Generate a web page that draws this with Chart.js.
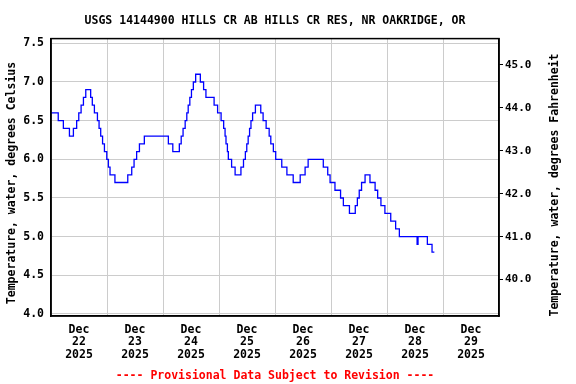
<!DOCTYPE html>
<html>
<head>
<meta charset="utf-8">
<script src="https://cdn.jsdelivr.net/npm/chart.js@4.4.1/dist/chart.umd.min.js"></script>
<style>
    html, body { margin: 0; padding: 0; background: #ffffff; }
    #wrap { width: 576px; height: 384px; }
</style>
</head>
<body>
<div id="wrap"><canvas id="chart" width="576" height="384"></canvas></div>
<script>
// hours since Dec 22 2025 00:00, and the water temperature (deg C) that starts at that hour
const hoursSinceStart = [
    0, 3.1, 5.3, 7.9, 9.6, 11.0, 11.9, 12.9, 13.9, 14.9, 17.0, 17.7, 18.6, 19.9, 20.6,
    21.3, 22.1, 22.9, 23.9, 24.6, 25.3, 27.4, 32.9, 34.6, 35.6, 36.7, 37.9, 40.0, 50.3,
    52.2, 55.0, 55.8, 56.6, 57.5, 58.2, 58.8, 59.5, 60.2, 61.0, 62.0, 64.0, 65.4, 66.4,
    69.9, 71.4, 72.9, 74.0, 74.6, 75.0, 75.6, 76.0, 77.4, 78.9, 81.4, 82.5, 83.3, 83.9,
    84.5, 85.1, 85.7, 86.4, 87.6, 89.9, 90.9, 92.2, 93.5, 94.2, 95.3, 96.3, 98.9, 101.1,
    103.8, 106.8, 108.9, 110.2, 116.7, 118.6, 119.6, 121.7, 124.1, 125.3, 127.9, 130.4,
    131.3, 132.1, 133.1, 134.6, 136.7, 138.9, 140.0, 141.4, 143.1, 145.6, 147.7, 149.3,
    156.9, 157.3, 161.3, 163.3, 164.3,
];
const temperatureC = [
    6.6, 6.5, 6.4, 6.3, 6.4, 6.5, 6.6, 6.7, 6.8, 6.9, 6.8, 6.7, 6.6, 6.5, 6.4,
    6.3, 6.2, 6.1, 6.0, 5.9, 5.8, 5.7, 5.8, 5.9, 6.0, 6.1, 6.2, 6.3, 6.2,
    6.1, 6.2, 6.3, 6.4, 6.5, 6.6, 6.7, 6.8, 6.9, 7.0, 7.1, 7.0, 6.9, 6.8,
    6.7, 6.6, 6.5, 6.4, 6.3, 6.2, 6.1, 6.0, 5.9, 5.8, 5.9, 6.0, 6.1, 6.2,
    6.3, 6.4, 6.5, 6.6, 6.7, 6.6, 6.5, 6.4, 6.3, 6.2, 6.1, 6.0, 5.9, 5.8,
    5.7, 5.8, 5.9, 6.0, 5.9, 5.8, 5.7, 5.6, 5.5, 5.4, 5.3, 5.4,
    5.5, 5.6, 5.7, 5.8, 5.7, 5.6, 5.5, 5.4, 5.3, 5.2, 5.1, 5.0,
    4.9, 5.0, 4.9, 4.8, 4.8,
];

const dayLabels = ["22", "23", "24", "25", "26", "27", "28", "29"];
const celsiusTicks = [4.0, 4.5, 5.0, 5.5, 6.0, 6.5, 7.0, 7.5];
const fahrenheitTicks = [40.0, 41.0, 42.0, 43.0, 44.0, 45.0];

const titleText = "USGS 14144900 HILLS CR AB HILLS CR RES, NR OAKRIDGE, OR";
const footerText = "---- Provisional Data Subject to Revision ----";
const leftAxisTitle = "Temperature, water, degrees Celsius";
const rightAxisTitle = "Temperature, water, degrees Fahrenheit";

const fontFamily = "'DejaVu Sans Mono', 'Liberation Mono', monospace";
const celsiusMin = 3.974;
const celsiusMax = 7.561;
const toFahrenheit = (c) => c * 1.8 + 32;

const points = hoursSinceStart.map((hour, index) => ({ x: hour, y: temperatureC[index] }));

const frameAndTitles = {
    id: "frameAndTitles",
    afterDraw: (chart) => {
        const { ctx, chartArea } = chart;
        ctx.save();
        ctx.strokeStyle = "#000000";
        ctx.lineWidth = 1.5;
        ctx.strokeRect(chartArea.left, chartArea.top,
            chartArea.right - chartArea.left, chartArea.bottom - chartArea.top);

        ctx.fillStyle = "#000000";
        ctx.font = `bold 11.5px ${fontFamily}`;
        ctx.textAlign = "center";
        ctx.textBaseline = "middle";

        ctx.save();
        ctx.translate(12, 183);
        ctx.rotate(-Math.PI / 2);
        ctx.fillText(leftAxisTitle, 0, 0);
        ctx.restore();

        ctx.save();
        ctx.translate(555, 185);
        ctx.rotate(-Math.PI / 2);
        ctx.fillText(rightAxisTitle, 0, 0);
        ctx.restore();

        ctx.restore();
    },
};

new Chart(document.getElementById("chart"), {
    type: "line",
    data: {
        datasets: [
            {
                data: points,
                borderColor: "#0000ff",
                borderWidth: 1.3,
                pointRadius: 0,
                stepped: true,
                fill: false,
                yAxisID: "y",
            },
        ],
    },
    options: {
        responsive: false,
        animation: false,
        layout: { padding: 0 },
        plugins: {
            legend: { display: false },
            tooltip: { enabled: false },
            title: {
                display: true,
                fullSize: false,
                text: titleText,
                color: "#000000",
                font: { family: fontFamily, size: 11.5, weight: "bold" },
                padding: { top: 14, bottom: 10.8 },
            },
            subtitle: {
                display: true,
                fullSize: false,
                position: "bottom",
                text: footerText,
                color: "#ff0000",
                font: { family: fontFamily, size: 11.5, weight: "bold" },
                padding: { top: 3.5, bottom: 1.5 },
            },
        },
        scales: {
            x: {
                type: "linear",
                min: 0,
                max: 192,
                afterBuildTicks: (scale) => {
                    const ticks = [];
                    for (let hour = 0; hour <= 192; hour += 12) {
                        ticks.push({ value: hour });
                    }
                    scale.ticks = ticks;
                },
                afterFit: (scale) => {
                    scale.height = 49.2;
                },
                grid: {
                    color: (context) => (context.tick && context.tick.value % 24 === 0 ? "#cccccc" : "rgba(0,0,0,0)"),
                    lineWidth: 1,
                    drawTicks: false,
                },
                border: { display: true, color: "#000000", width: 1.5 },
                ticks: {
                    autoSkip: false,
                    maxRotation: 0,
                    padding: 7.5,
                    color: "#000000",
                    font: { family: fontFamily, size: 11.5, weight: "bold", lineHeight: 1.1 },
                    callback: (value) => {
                        if (value % 24 !== 12) {
                            return "";
                        }
                        return ["Dec", dayLabels[(value - 12) / 24], "2025"];
                    },
                },
            },
            y: {
                position: "left",
                min: celsiusMin,
                max: celsiusMax,
                afterBuildTicks: (scale) => {
                    scale.ticks = celsiusTicks.map((value) => ({ value }));
                },
                afterFit: (scale) => {
                    scale.width = 51;
                },
                grid: { color: "#cccccc", lineWidth: 1, drawTicks: false },
                border: { display: true, color: "#000000", width: 1.5 },
                ticks: {
                    padding: 7,
                    color: "#000000",
                    font: { family: fontFamily, size: 11.5, weight: "bold" },
                    callback: (value) => Number(value).toFixed(1),
                },
            },
            y2: {
                position: "right",
                min: toFahrenheit(celsiusMin),
                max: toFahrenheit(celsiusMax),
                afterBuildTicks: (scale) => {
                    scale.ticks = fahrenheitTicks.map((value) => ({ value }));
                },
                afterFit: (scale) => {
                    scale.width = 77;
                },
                grid: { drawOnChartArea: false, drawTicks: true, tickLength: 4, color: "#000000" },
                border: { display: true, color: "#000000", width: 1.5 },
                ticks: {
                    padding: 2,
                    color: "#000000",
                    font: { family: fontFamily, size: 11, weight: "bold" },
                    callback: (value) => Number(value).toFixed(1),
                },
            },
        },
    },
    plugins: [frameAndTitles],
});
</script>
</body>
</html>
